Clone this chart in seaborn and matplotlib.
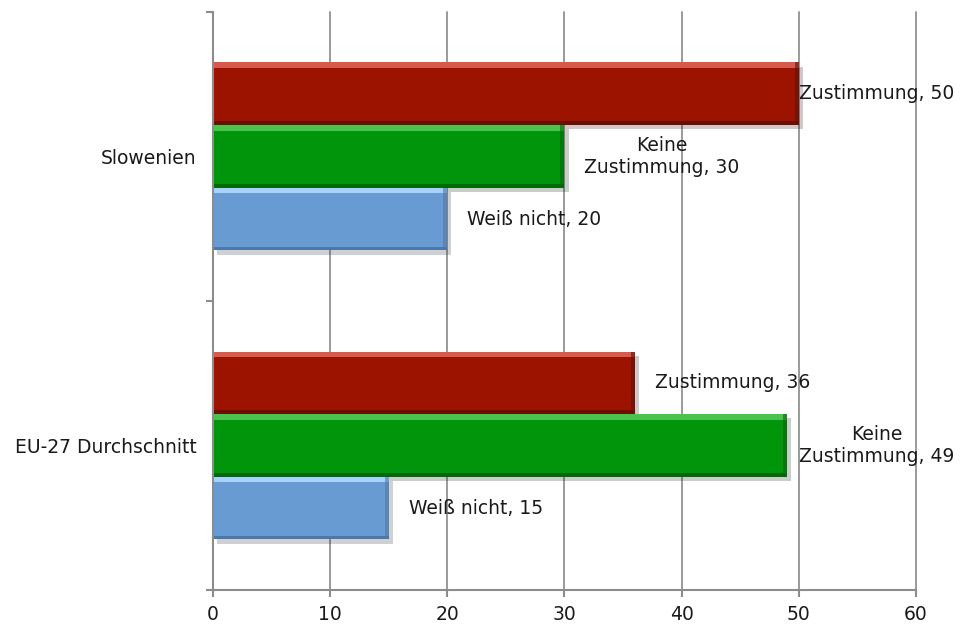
import numpy as np
import matplotlib.pyplot as plt
import matplotlib.patheffects as pe
from matplotlib.patches import Rectangle
import pandas as pd
import seaborn as sns

# data
regions = ["Slowenien", "EU-27 Durchschnitt"]
answers = ["Zustimmung", "Keine Zustimmung", "Weiß nicht"]
label_names = ["Zustimmung", "Keine\nZustimmung", "Weiß nicht"]
zustimmung = [50, 36]
keine_zustimmung = [30, 49]
weiss_nicht = [20, 15]
x_ticks = [0, 10, 20, 30, 40, 50, 60]

colors = ["#9c1300", "#00950a", "#689bd2"]
highlights = ["#d65a4e", "#4cc34c", "#a9d2fa"]
shades = ["#6e0d00", "#006a06", "#4a78ae"]

df = pd.DataFrame({
    "region": regions * 3,
    "answer": np.repeat(answers, len(regions)),
    "value": zustimmung + keine_zustimmung + weiss_nicht,
})

sns.set_style("white")
plt.rcParams["font.family"] = ["DejaVu Sans"]

fig = plt.figure(figsize=(9.66, 6.25), dpi=100)
ax = fig.add_axes([0.2205, 0.056, 0.7275, 0.925])

sns.barplot(data=df, y="region", x="value", hue="answer", order=regions,
            hue_order=answers, palette=colors, orient="h", width=0.65,
            saturation=1, legend=False, ax=ax, linewidth=0)

# bevel look + shadow + labels
for i, cont in enumerate(ax.containers):
    for bar in cont:
        x0, y0 = bar.get_x(), bar.get_y()
        w, h = bar.get_width(), bar.get_height()
        bar.set_path_effects([pe.SimplePatchShadow(offset=(3, -3), alpha=0.22), pe.Normal()])
        ax.add_patch(Rectangle((x0, y0), w, h * 0.09, color=highlights[i], lw=0, zorder=bar.get_zorder() + 0.1))
        ax.add_patch(Rectangle((x0, y0 + h * 0.94), w, h * 0.06, color=shades[i], lw=0, zorder=bar.get_zorder() + 0.1))
        ax.add_patch(Rectangle((x0 + w - 0.35, y0), 0.35, h, color=shades[i], lw=0, alpha=0.6, zorder=bar.get_zorder() + 0.1))
        yc = y0 + h / 2
        txt = f"{label_names[i]}, {w:g}"
        if w < 45:
            ax.annotate(txt, (w, yc), xytext=(14.4, 0), textcoords="offset points",
                        ha="left", va="center", multialignment="center",
                        fontsize=13.5, color="#1a1a1a", annotation_clip=False)
        else:
            ax.text(63.3, yc, txt, ha="right", va="center", multialignment="center",
                    fontsize=13.5, color="#1a1a1a", clip_on=False)

ax.set_xlim(0, 60)
ax.set_ylim(1.5, -0.5)
ax.set_xticks(x_ticks)
ax.set_xlabel("")
ax.set_ylabel("")
ax.set_axisbelow(True)
ax.xaxis.grid(True, color="#9a9a9a", lw=1.4)
for gl in ax.get_xgridlines():
    gl.set_clip_on(False)
ax.yaxis.grid(False)

for s in ["top", "right"]:
    ax.spines[s].set_visible(False)
for s in ["left", "bottom"]:
    ax.spines[s].set_color("#8c8c8c")
    ax.spines[s].set_linewidth(1.5)

ax.tick_params(axis="x", length=5, width=1.5, color="#8c8c8c", direction="out",
               labelsize=13.5, pad=6, labelcolor="#1a1a1a", bottom=True)
ax.set_yticks(range(len(regions)))
ax.set_yticklabels(regions)
ax.set_yticks([-0.5, 0.5, 1.5], minor=True)
ax.tick_params(axis="y", which="major", length=0, pad=12, labelsize=13.5, labelcolor="#1a1a1a")
ax.tick_params(axis="y", which="minor", length=5, width=1.5, color="#8c8c8c", direction="out", left=True)

fig.savefig("out.png", dpi=100)
